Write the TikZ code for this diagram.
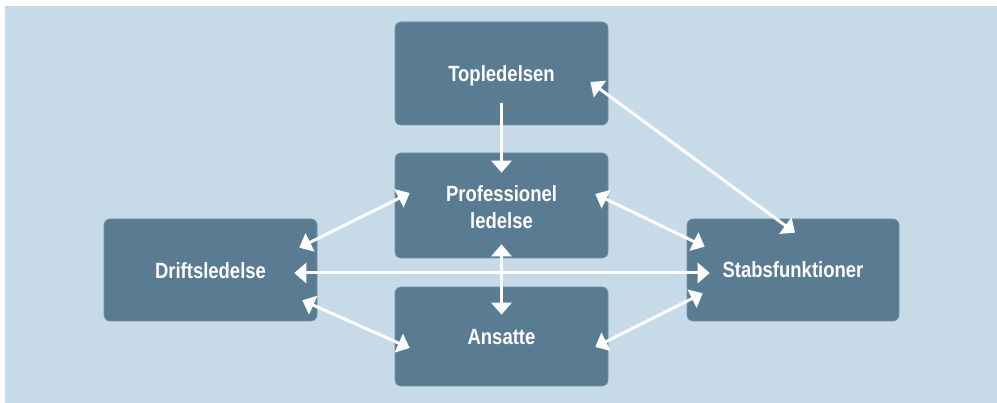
\documentclass[tikz,border=0pt]{standalone}
\usepackage{fontspec}
\newfontfamily\lblfont[FakeStretch=0.84]{Liberation Sans}
\usetikzlibrary{arrows.meta}
\definecolor{bgblue}{HTML}{C6DAE7}
\definecolor{boxblue}{HTML}{5A7C93}
\begin{document}
\begin{tikzpicture}[x=1pt,y=1pt,
  box/.style={rectangle, rounded corners=6pt, fill=boxblue, draw=boxblue!85!white, line width=0.6pt,
    minimum width=213pt, inner sep=0pt},
  lbl/.style={text=white, anchor=base, inner sep=0pt,
    font=\lblfont\bfseries\fontsize{22}{26}\selectfont},
  arr/.style={draw=white, line width=3pt, -{Triangle[width=20pt,length=12pt]}},
  darr/.style={draw=white, line width=3pt, {Triangle[width=20pt,length=12pt]}-{Triangle[width=20pt,length=12pt]}}]
\useasboundingbox (0,0) rectangle (997,-403);
\fill[white] (0,0) rectangle (997,-403);
\fill[bgblue] (5,-6) rectangle (997,-403);

\node[box, minimum height=103pt] (top)   at (501.5,-73.5)  {};
\node[box, minimum height=105pt] (prof)  at (501.5,-205.5) {};
\node[box, minimum height=102pt] (drift) at (210.5,-270)   {};
\node[box, minimum height=102pt, minimum width=212pt] (stab) at (793,-270) {};
\node[box, minimum height=99pt]  (ans)   at (501.5,-336.5) {};

\node[lbl] (topt)   at ([yshift=-8.5pt]top.center)   {Topledelsen};
\node[lbl] (proft)  at ([yshift=3.5pt]prof.center)   {Professionel};
\node[lbl] (proftb) at ([yshift=-23.5pt]prof.center) {ledelse};
\node[lbl] (driftt) at ([yshift=-9pt]drift.center)   {Driftsledelse};
\node[lbl] (stabt)  at ([yshift=-8pt]stab.center)    {Stabsfunktioner};
\node[lbl] (anst)   at ([yshift=-8.5pt]ans.center)   {Ansatte};

\draw[arr]  ([yshift=22pt]top.south) -- ([yshift=-20pt]prof.north);
\draw[darr] ([yshift=14pt]prof.south) -- ([yshift=-28pt]ans.north);
\draw[darr] ([shift={(-23pt,-3pt)}]drift.east) -- ([shift={(23pt,-3pt)}]stab.west);
\draw[darr] ([shift={(-18pt,-29pt)}]drift.north east) -- ([shift={(15pt,12.5pt)}]prof.west);
\draw[darr] ([shift={(-13pt,11.5pt)}]prof.east) -- ([shift={(18pt,-28pt)}]stab.north west);
\draw[darr] ([shift={(-18pt,-8.5pt)}]top.east) -- ([shift={(2pt,-14pt)}]stab.north);
\draw[darr] ([shift={(-15pt,21pt)}]drift.south east) -- ([shift={(15pt,-11.5pt)}]ans.west);
\draw[darr] ([shift={(-13pt,-10.5pt)}]ans.east) -- ([shift={(16pt,28pt)}]stab.south west);
\end{tikzpicture}
\end{document}
